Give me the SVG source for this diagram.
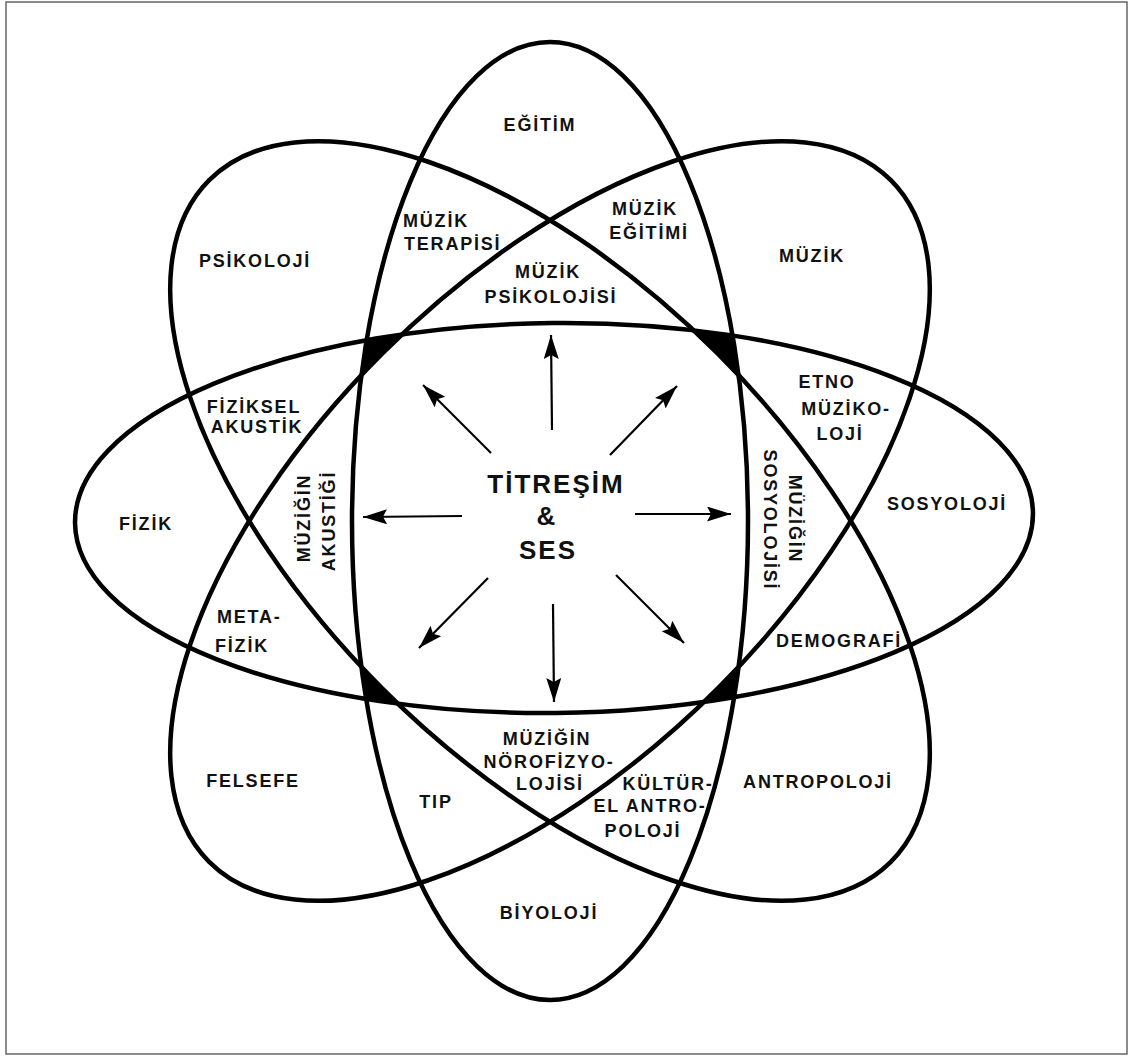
<svg xmlns="http://www.w3.org/2000/svg" width="1131" height="1057" viewBox="0 0 1131 1057">
<style>
.ring{fill:none;stroke:#000;stroke-width:4.5}
.lbl{font-family:"Liberation Sans",Arial,sans-serif;font-weight:bold;font-size:18px;letter-spacing:1.8px;fill:#111;text-anchor:middle}
.lft{text-anchor:start}
.ctr{font-size:26px;letter-spacing:2px}
.arr{stroke:#000;stroke-width:2.2;fill:none;marker-end:url(#ah)}
</style>
<defs>
<marker id="ah" markerUnits="userSpaceOnUse" markerWidth="26" markerHeight="16" refX="24" refY="7.5" orient="auto">
<path d="M0,0 L24,7.5 L0,15 L4,7.5 z" fill="#000"/>
</marker>
<clipPath id="clipH"><ellipse cx="554" cy="518" rx="479" ry="195" transform="rotate(-0.6 554 518)"/></clipPath>
<clipPath id="clipD2"><ellipse cx="550" cy="521" rx="482" ry="237" transform="rotate(-45 550 521)"/></clipPath>
</defs>
<rect x="6" y="2" width="1121" height="1052" fill="#fff" stroke="#666" stroke-width="1.5"/>
<g id="corner-fills">
<g clip-path="url(#clipH)"><ellipse cx="550" cy="521" rx="198" ry="479" fill="#000"/></g>
<g clip-path="url(#clipD2)"><ellipse cx="550" cy="521" rx="482" ry="237" transform="rotate(45 550 521)" fill="#fff"/></g>
</g>
<g id="ellipse-vertical"><ellipse class="ring" cx="550" cy="521" rx="198" ry="479"/></g>
<g id="ellipse-horizontal"><ellipse class="ring" cx="554" cy="518" rx="479" ry="195" transform="rotate(-0.6 554 518)"/></g>
<g id="ellipse-diag-nw-se"><ellipse class="ring" cx="550" cy="521" rx="482" ry="237" transform="rotate(45 550 521)"/></g>
<g id="ellipse-diag-ne-sw"><ellipse class="ring" cx="550" cy="521" rx="482" ry="237" transform="rotate(-45 550 521)"/></g>
<g id="connectors">
<line class="arr" x1="552" y1="430" x2="551" y2="335"/>
<line class="arr" x1="491" y1="453" x2="423" y2="385"/>
<line class="arr" x1="610" y1="455" x2="677" y2="386"/>
<line class="arr" x1="462" y1="516" x2="363" y2="517"/>
<line class="arr" x1="635" y1="514" x2="731" y2="514"/>
<line class="arr" x1="488" y1="578" x2="419" y2="648"/>
<line class="arr" x1="553" y1="604" x2="554" y2="702"/>
<line class="arr" x1="616" y1="575" x2="684" y2="643"/>
</g>
<g id="center" class="lbl ctr">
<text x="556" y="493">TİTREŞİM</text>
<text x="547" y="525">&amp;</text>
<text x="548" y="559">SES</text>
</g>
<g id="egitim" class="lbl"><text x="540" y="131">EĞİTİM</text></g>
<g id="psikoloji" class="lbl"><text x="255" y="267">PSİKOLOJİ</text></g>
<g id="muzik-terapisi" class="lbl"><text class="lft" x="403" y="227">MÜZİK</text><text class="lft" x="404" y="250">TERAPİSİ</text></g>
<g id="muzik-egitimi" class="lbl"><text x="645" y="215">MÜZİK</text><text x="649" y="239">EĞİTİMİ</text></g>
<g id="muzik-psikolojisi" class="lbl"><text x="548" y="278">MÜZİK</text><text x="551" y="303">PSİKOLOJİSİ</text></g>
<g id="muzik" class="lbl"><text x="812" y="262">MÜZİK</text></g>
<g id="fiziksel-akustik" class="lbl"><text x="254" y="413">FİZİKSEL</text><text x="257" y="433">AKUSTİK</text></g>
<g id="muzigin-akustigi" class="lbl"><text transform="translate(310 518) rotate(-90)">MÜZİĞİN</text><text transform="translate(335 521) rotate(-90)">AKUSTİĞİ</text></g>
<g id="fizik" class="lbl"><text x="146" y="530">FİZİK</text></g>
<g id="meta-fizik" class="lbl"><text class="lft" x="217" y="623">META-</text><text class="lft" x="215" y="652">FİZİK</text></g>
<g id="etno-muzikoloji" class="lbl"><text x="827" y="388">ETNO</text><text x="846" y="415">MÜZİKO-</text><text x="840" y="440">LOJİ</text></g>
<g id="muzigin-sosyolojisi" class="lbl"><text transform="translate(789 519) rotate(90)">MÜZİĞİN</text><text transform="translate(764 520) rotate(90)">SOSYOLOJİSİ</text></g>
<g id="sosyoloji" class="lbl"><text x="947" y="510">SOSYOLOJİ</text></g>
<g id="demografi" class="lbl"><text x="839" y="647">DEMOGRAFİ</text></g>
<g id="muzigin-norofizyolojisi" class="lbl"><text x="547" y="745">MÜZİĞİN</text><text x="549" y="768">NÖROFİZYO-</text><text x="550" y="790">LOJİSİ</text></g>
<g id="kulturel-antropoloji" class="lbl"><text x="668" y="790">KÜLTÜR-</text><text x="650" y="812">EL ANTRO-</text><text x="643" y="837">POLOJİ</text></g>
<g id="tip" class="lbl"><text x="436" y="808">TIP</text></g>
<g id="felsefe" class="lbl"><text x="253" y="787">FELSEFE</text></g>
<g id="antropoloji" class="lbl"><text x="818" y="788">ANTROPOLOJİ</text></g>
<g id="biyoloji" class="lbl"><text x="549" y="919">BİYOLOJİ</text></g>
</svg>
